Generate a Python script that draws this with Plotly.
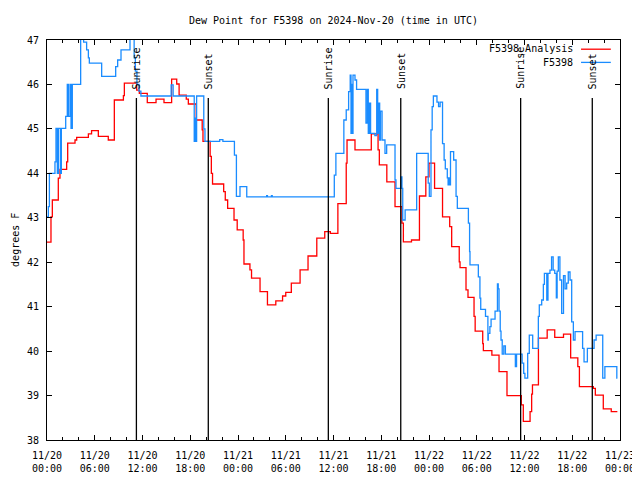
import pandas as pd
import plotly.graph_objects as go

# ---- data (hours since 2024-11-20 00:00 UTC, value in degrees F) ----
analysis_hours = [0.0, 0.5, 0.67, 1.42, 1.63, 2.47, 2.6, 3.52, 3.73, 5.2, 5.6, 6.45, 7.7, 8.46, 9.6, 9.72,
                  11.27, 11.6, 12.6, 13.7, 14.7, 15.66, 16.3, 16.6, 17.5, 17.76, 18.75, 19.5, 19.6, 20.5,
                  20.65, 20.8, 22.2, 22.4, 22.7, 23.5, 23.9, 24.65, 24.75, 25.5, 25.7, 26.77, 27.7, 28.75,
                  29.6, 30.0, 30.7, 31.8, 32.8, 33.9, 34.9, 35.6, 36.55, 37.6, 37.7, 38.7, 40.75, 41.6,
                  41.76, 42.7, 43.73, 44.6, 44.78, 45.8, 46.8, 47.6, 48.0, 48.7, 49.7, 50.6, 50.85, 51.8,
                  51.9, 52.65, 52.9, 53.66, 53.8, 54.75, 54.83, 55.9, 56.8, 57.8, 59.6, 59.85, 60.7, 60.9,
                  61.0, 61.75, 62.85, 63.8, 64.9, 65.8, 66.7, 66.9, 68.65, 68.9, 69.9, 70.9, 71.67]
analysis_values = [42.45, 43.02, 43.4, 43.89, 44.09, 44.26, 44.68, 44.75, 44.81, 44.89, 44.96, 44.83, 44.75,
                   45.65, 45.75, 46.03, 45.87, 45.8, 45.59, 45.67, 45.59, 46.12, 46.01, 45.76, 45.67, 45.56,
                   45.2, 44.98, 44.72, 44.38, 44.0, 43.76, 43.59, 43.4, 43.21, 42.95, 42.73, 42.5, 41.96,
                   41.83, 41.64, 41.34, 41.04, 41.13, 41.24, 41.32, 41.53, 41.83, 42.14, 42.54, 42.69, 42.65,
                   43.32, 44.23, 44.75, 44.53, 44.89, 44.53, 44.19, 43.81, 43.25, 42.88, 42.46, 42.5, 43.49,
                   43.92, 44.23, 43.66, 43.02, 42.8, 42.35, 42.01, 41.88, 41.38, 41.21, 40.78, 40.45, 40.17,
                   40.01, 39.91, 39.54, 39.0, 38.79, 38.42, 38.64, 39.03, 39.24, 40.29, 40.48, 40.31, 40.38,
                   39.85, 39.65, 39.2, 39.16, 39.01, 38.7, 38.64, 38.64]

obs_hours = [0.0, 0.17, 0.3, 1.0, 1.13, 1.3, 1.45, 1.7, 1.8, 2.35, 2.55, 2.68, 2.89, 3.02, 3.18, 4.23, 4.6,
             4.98, 5.2, 5.32, 6.87, 8.63, 8.88, 9.3, 10.43, 10.95, 11.1, 11.3, 11.55, 11.8, 15.6, 15.85,
             18.5, 18.6, 18.7, 18.8, 19.7, 19.85, 21.7, 22.1, 23.55, 23.8, 24.25, 25.1, 27.6, 27.7, 28.2,
             28.3, 36.1, 36.3, 37.3, 37.6, 37.9, 38.1, 38.2, 38.3, 38.35, 38.45, 38.7, 38.9, 40.08, 40.25,
             40.37, 40.5, 40.66, 41.2, 41.43, 41.55, 41.7, 41.8, 41.9, 42.1, 42.47, 42.68, 43.73, 43.85,
             44.48, 44.6, 44.7, 45.0, 46.45, 47.9, 48.04, 48.25, 48.4, 48.55, 49.0, 49.2, 49.4, 49.7, 49.9,
             50.05, 50.3, 50.4, 50.5, 50.55, 50.7, 51.1, 51.4, 51.56, 52.95, 53.1, 53.15, 54.2, 54.4, 54.5,
             55.1, 55.4, 55.45, 55.65, 55.8, 56.3, 56.6, 56.7, 56.8, 56.95, 57.05, 57.2, 57.4, 57.6, 58.85,
             59.0, 59.7, 59.9, 60.05, 60.4, 60.6, 61.03, 61.74, 61.86, 62.16, 62.37, 62.5, 62.8, 62.95,
             63.2, 63.4, 63.6, 63.8, 64.0, 64.1, 64.25, 64.45, 64.67, 64.9, 65.1, 65.3, 65.5, 65.72, 65.93,
             66.14, 66.35, 67.3, 67.48, 67.9, 68.74, 69.0, 69.83, 70.1, 71.6, 71.67]
obs_values = [43.02, 43.25, 44.0, 44.26, 45.01, 44.0, 45.01, 44.0, 45.01, 45.28, 46.0, 45.28, 46.0, 45.01,
              46.0, 47.3, 46.95, 46.78, 46.6, 46.48, 46.18, 46.4, 46.55, 46.78, 47.3, 46.6, 46.3, 46.0,
              45.85, 45.74, 45.99, 45.74, 44.72, 45.24, 44.72, 45.74, 45.0, 44.72, 44.76, 44.72, 44.41,
              43.48, 43.7, 43.47, 43.5, 43.47, 43.5, 43.47, 43.96, 44.45, 45.2, 45.43, 45.84, 46.21, 44.9,
              46.0, 44.9, 46.21, 46.1, 45.89, 45.13, 45.89, 44.9, 45.58, 44.9, 44.85, 45.89, 44.9, 45.58,
              44.75, 45.4, 44.75, 44.45, 44.64, 43.85, 43.66, 43.92, 43.66, 42.95, 43.18, 44.45, 43.78,
              43.48, 44.98, 45.5, 45.74, 45.6, 45.5, 45.6, 44.67, 44.3, 44.1, 43.9, 43.74, 43.9, 43.74,
              44.49, 44.3, 43.48, 43.21, 42.88, 42.24, 41.94, 41.67, 41.19, 40.94, 40.78, 40.25, 40.4,
              40.55, 40.72, 40.9, 41.51, 41.4, 40.9, 40.45, 40.25, 39.93, 40.12, 39.93, 39.65, 39.93,
              39.73, 39.5, 39.39, 39.95, 40.36, 40.06, 40.78, 41.04, 41.15, 41.5, 41.75, 41.15, 41.75,
              41.82, 42.12, 41.82, 41.75, 41.2, 41.8, 42.12, 41.6, 40.85, 41.7, 41.4, 41.53, 41.78, 41.6,
              40.66, 40.25, 40.44, 40.06, 39.76, 40.06, 40.25, 40.36, 39.39, 39.65, 39.39, 39.39]

sun_times = ["2024-11-20 11:14", "2024-11-20 20:16", "2024-11-21 11:21",
             "2024-11-21 20:27", "2024-11-22 11:31", "2024-11-22 20:31"]
sun_labels = ["Sunrise", "Sunset", "Sunrise", "Sunset", "Sunrise", "Sunset"]

series_names = ["F5398_Analysis", "F5398"]
series_colors = ["#ff0000", "#1a8cff"]

base = pd.Timestamp("2024-11-20 00:00")
end = pd.Timestamp("2024-11-23 00:00")


def to_time(hours):
    return [base + pd.Timedelta(hours=h) for h in hours]


FONT = "DejaVu Sans Mono"
fs = 10

fig = go.Figure()
fig.add_trace(go.Scatter(x=to_time(analysis_hours), y=analysis_values, mode="lines",
                         name=series_names[0],
                         line=dict(color=series_colors[0], width=1.3, shape="hv")))
fig.add_trace(go.Scatter(x=to_time(obs_hours), y=obs_values, mode="lines",
                         name=series_names[1],
                         line=dict(color=series_colors[1], width=1.3, shape="hv")))

for t, lab in zip(sun_times, sun_labels):
    fig.add_shape(type="line", xref="x", yref="paper", x0=t, x1=t, y0=0, y1=0.855,
                  line=dict(color="black", width=1.3))
    fig.add_annotation(x=t, xref="x", yref="paper", y=0.872, text=lab, textangle=-90,
                       showarrow=False, xanchor="center", yanchor="bottom",
                       font=dict(family=FONT, size=fs, color="black"))

# gnuplot-style key: text then sample line
key_y = [0.977, 0.944]
for name, col, yy in zip(series_names, series_colors, key_y):
    fig.add_annotation(x=0.9215, y=yy, xref="paper", yref="paper", text=name, showarrow=False,
                       xanchor="right", yanchor="middle",
                       font=dict(family=FONT, size=fs, color="black"))
    fig.add_shape(type="line", xref="paper", yref="paper", x0=0.932, x1=0.984, y0=yy, y1=yy,
                  line=dict(color=col, width=1.3))

fig.add_annotation(x=-0.056, y=0.5, xref="paper", yref="paper", text="degrees F",
                   textangle=-90, showarrow=False, xanchor="center", yanchor="middle",
                   font=dict(family=FONT, size=fs, color="black"))

major = pd.date_range(base, end, freq="6h")
minor = pd.date_range(base, end, freq="2h")

# the page body adds an 8 px offset, so margins are shifted to keep the plot area in place
fig.update_layout(
    width=640, height=480,
    margin=dict(l=39, r=28, t=32, b=48, autoexpand=False),
    paper_bgcolor="white", plot_bgcolor="white",
    showlegend=False,
    font=dict(family=FONT, size=fs, color="black"),
    title=dict(text="Dew Point for F5398 on 2024-Nov-20 (time in UTC)", x=0.5, xref="paper",
               xanchor="center", y=1 - 12 / 480, yanchor="middle",
               font=dict(family=FONT, size=fs, color="black")),
    xaxis=dict(type="date", range=[base, end], tickmode="array", tickvals=list(major),
               ticktext=[t.strftime("%m/%d<br>%H:%M") for t in major],
               ticks="inside", ticklen=5, tickcolor="black", mirror="ticks",
               showline=True, linecolor="black", linewidth=1, showgrid=False, zeroline=False,
               automargin=False, ticklabelstandoff=6,
               minor=dict(tickmode="array", tickvals=list(minor), ticks="inside", ticklen=3,
                          tickcolor="black", showgrid=False),
               tickfont=dict(family=FONT, size=fs)),
    yaxis=dict(range=[38, 47], dtick=1, tick0=38, ticks="inside", ticklen=5, tickcolor="black",
               mirror="ticks", showline=True, linecolor="black", linewidth=1, showgrid=False,
               zeroline=False, ticklabelstandoff=5, automargin=False,
               tickfont=dict(family=FONT, size=fs)),
)

fig.write_html("out.html")
